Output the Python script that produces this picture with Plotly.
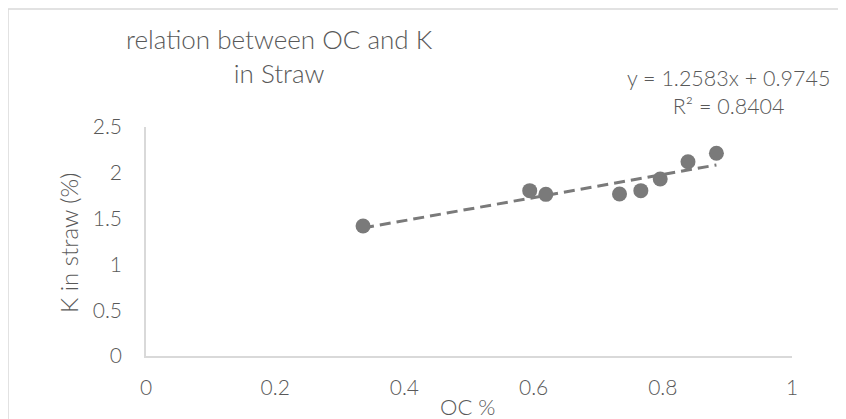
import plotly.graph_objects as go

# OC % vs K in straw (%)
oc_pct = [0.336, 0.594, 0.619, 0.733, 0.766, 0.796, 0.839, 0.883]
k_straw = [1.419, 1.805, 1.765, 1.769, 1.805, 1.932, 2.121, 2.213]

# linear trendline as reported on the chart
slope = 1.2583
intercept = 0.9745
r_squared = 0.8404

x_ticks = [0, 0.2, 0.4, 0.6, 0.8, 1]
y_ticks = [0, 0.5, 1, 1.5, 2, 2.5]

FONT = "Lato, 'Open Sans', sans-serif"
TEXT = "#595959"
AXIS = "#d9d9d9"
MARK = "#7a7a7a"


def txt(size):
    return dict(family=FONT, size=size, color=TEXT, weight=300)


trend_x = [min(oc_pct), max(oc_pct)]
trend_y = [slope * v + intercept for v in trend_x]

fig = go.Figure()

fig.add_trace(go.Scatter(
    x=trend_x, y=trend_y, mode="lines",
    line=dict(color=MARK, width=3, dash="11px,6px"),
    hoverinfo="skip", showlegend=False,
))
fig.add_trace(go.Scatter(
    x=oc_pct, y=k_straw, mode="markers",
    marker=dict(color=MARK, size=15),
    showlegend=False,
))

fig.update_xaxes(
    range=[0, 1], tickvals=x_ticks, ticktext=[f"{v:g}" for v in x_ticks],
    showgrid=False, zeroline=False, showline=True, linecolor=AXIS, linewidth=1.5,
    ticks="", ticklabelstandoff=12,
    tickfont=txt(21),
)
fig.update_yaxes(
    range=[0, 2.5], tickvals=y_ticks, ticktext=[f"{v:g}" for v in y_ticks],
    showgrid=False, zeroline=False, showline=True, linecolor=AXIS, linewidth=1.5,
    ticks="", ticklabelstandoff=18,
    tickfont=txt(21),
)

annotations = [
    dict(text="relation between OC and K<br>in Straw", x=0.2074, y=1.31,
         font=txt(26)),
    dict(text=f"y = {slope}x + {intercept}<br>R² = {r_squared}", x=0.901, y=1.152,
         font=txt(21.5)),
    dict(text="K in straw (%)", x=-0.1207, y=0.4934, textangle=-90,
         font=txt(24)),
    dict(text="OC %", x=0.498, y=-0.2227,
         font=txt(22)),
]
for a in annotations:
    a.update(xref="paper", yref="paper", showarrow=False,
             xanchor="center", yanchor="middle", align="center")

# the page body keeps its 8px margin; the figure runs to the window edge
fig.update_layout(
    width=838, height=411,
    margin=dict(l=138, r=54, t=119, b=63),
    paper_bgcolor="white", plot_bgcolor="white",
    annotations=annotations,
    shapes=[dict(type="rect", xref="paper", yref="paper",
                 x0=-0.2136, x1=1.0743, y0=-0.4, y1=1.515,
                 line=dict(color=AXIS, width=1.5), layer="below")],
)

fig.write_html("out.html", post_script="document.body.style.overflow='hidden';")
